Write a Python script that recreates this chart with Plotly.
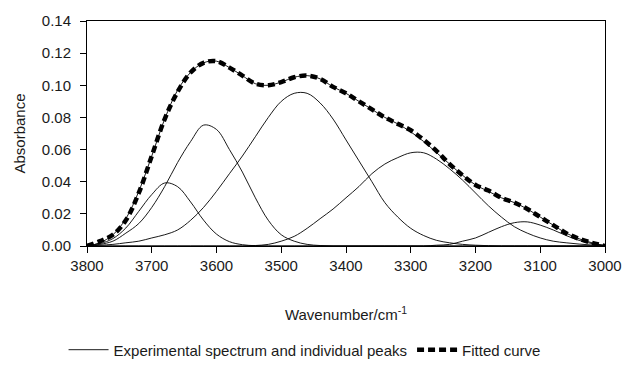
import plotly.graph_objects as go

wavenumber = [3800, 3780, 3760, 3740, 3720, 3700, 3680, 3660, 3640, 3620, 3600,
              3580, 3560, 3540, 3520, 3500, 3480, 3460, 3440, 3420, 3400,
              3380, 3360, 3340, 3320, 3300, 3280, 3260, 3240, 3220, 3200,
              3180, 3160, 3140, 3120, 3100, 3080, 3060, 3040, 3020, 3000]

fitted = [0.000, 0.003, 0.007, 0.016, 0.033, 0.056, 0.079, 0.096, 0.108, 0.114, 0.115,
          0.111, 0.106, 0.101, 0.100, 0.102, 0.105, 0.106, 0.104, 0.099, 0.095,
          0.090, 0.085, 0.080, 0.076, 0.072, 0.066, 0.059, 0.051, 0.044, 0.038,
          0.0345, 0.030, 0.027, 0.023, 0.018, 0.013, 0.008, 0.0045, 0.002, 0.000]

experimental = [0.000, 0.002, 0.007, 0.017, 0.034, 0.056, 0.079, 0.097, 0.108, 0.114, 0.115,
                0.111, 0.106, 0.101, 0.100, 0.102, 0.105, 0.106, 0.104, 0.099, 0.095,
                0.090, 0.085, 0.080, 0.076, 0.071, 0.065, 0.058, 0.051, 0.044, 0.038,
                0.034, 0.030, 0.027, 0.023, 0.018, 0.013, 0.008, 0.0045, 0.002, 0.000]

peak1 = [0.0004, 0.0015, 0.0046, 0.0112, 0.0216, 0.0320, 0.0392, 0.0369, 0.0274, 0.0161, 0.0074,
         0.0027, 0.0008, 0.0002, 0.0, 0.0, 0.0, 0.0, 0.0, 0.0, 0.0,
         0.0, 0.0, 0.0, 0.0, 0.0, 0.0, 0.0, 0.0, 0.0, 0.0,
         0.0, 0.0, 0.0, 0.0, 0.0, 0.0, 0.0, 0.0, 0.0, 0.0]

peak2 = [0.000, 0.001, 0.003, 0.008, 0.014, 0.024, 0.037, 0.052, 0.065, 0.0752, 0.0725,
         0.060, 0.046, 0.030, 0.016, 0.007, 0.003, 0.001, 0.0003, 0.0, 0.0,
         0.0, 0.0, 0.0, 0.0, 0.0, 0.0, 0.0, 0.0, 0.0, 0.0,
         0.0, 0.0, 0.0, 0.0, 0.0, 0.0, 0.0, 0.0, 0.0, 0.0]

peak3 = [0.000, 0.0005, 0.001, 0.002, 0.003, 0.005, 0.007, 0.010, 0.016, 0.024, 0.034,
         0.045, 0.056, 0.068, 0.080, 0.090, 0.095, 0.095, 0.089, 0.079, 0.066,
         0.053, 0.040, 0.027, 0.018, 0.011, 0.0065, 0.0035, 0.002, 0.001, 0.0005,
         0.0002, 0.0, 0.0, 0.0, 0.0, 0.0, 0.0, 0.0, 0.0, 0.0]

peak4 = [0.0, 0.0, 0.0, 0.0, 0.0, 0.0, 0.0, 0.0, 0.0, 0.0, 0.0,
         0.0, 0.0, 0.0003, 0.001, 0.003, 0.006, 0.011, 0.017, 0.023, 0.030,
         0.037, 0.045, 0.051, 0.055, 0.058, 0.058, 0.054, 0.048, 0.041, 0.033,
         0.025, 0.018, 0.012, 0.008, 0.005, 0.003, 0.002, 0.0012, 0.0006, 0.0002]

peak5 = [0.0, 0.0, 0.0, 0.0, 0.0, 0.0, 0.0, 0.0, 0.0, 0.0, 0.0,
         0.0, 0.0, 0.0, 0.0, 0.0, 0.0, 0.0, 0.0, 0.0, 0.0,
         0.0, 0.0, 0.0, 0.0, 0.0, 0.0, 0.0005, 0.001, 0.003, 0.005,
         0.0085, 0.012, 0.0145, 0.015, 0.013, 0.010, 0.0065, 0.0035, 0.0015, 0.0005]

x_ticks = [3800, 3700, 3600, 3500, 3400, 3300, 3200, 3100, 3000]
y_ticks = [0.00, 0.02, 0.04, 0.06, 0.08, 0.10, 0.12, 0.14]

FONT = "Liberation Sans, Arial, sans-serif"
TXT = "#1a1a1a"

fig = go.Figure()

for pk in [peak1, peak2, peak3, peak4, peak5]:
    fig.add_trace(go.Scatter(x=wavenumber, y=pk, mode="lines",
                             line=dict(color="black", width=0.9, shape="spline"),
                             showlegend=False, hoverinfo="skip"))

fig.add_trace(go.Scatter(x=wavenumber, y=experimental, mode="lines",
                         name="Experimental spectrum and individual peaks",
                         line=dict(color="black", width=0.9, shape="spline")))

fig.add_trace(go.Scatter(x=wavenumber, y=fitted, mode="lines",
                         name="Fitted curve",
                         line=dict(color="black", width=4.5, dash="7px,4px", shape="spline")))

fig.update_layout(
    width=626, height=366,
    margin=dict(l=87, r=21, t=21, b=120, autoexpand=False),
    paper_bgcolor="white", plot_bgcolor="white",
    font=dict(family=FONT, size=15, color=TXT),
    showlegend=True,
    legend=dict(orientation="h", x=0.42, xanchor="center", y=-0.462, yanchor="middle",
                font=dict(family=FONT, size=15, color=TXT),
                itemwidth=40, tracegroupgap=0, bgcolor="rgba(0,0,0,0)"),
    xaxis=dict(range=[3800, 3000], tickvals=x_ticks, ticks="outside", ticklen=6,
               tickcolor="black", showline=True, linecolor="black", linewidth=1,
               mirror=True, showgrid=False, zeroline=False,
               tickfont=dict(family=FONT, size=15, color=TXT),
               title=dict(text="Wavenumber/cm<sup>-1</sup>", standoff=36,
                          font=dict(family=FONT, size=15, color=TXT))),
    yaxis=dict(range=[0, 0.14], tickvals=y_ticks, tickformat=".2f", ticks="outside",
               ticklen=6, tickcolor="black", showline=True, linecolor="black",
               linewidth=1, mirror=True, showgrid=False, zeroline=False,
               ticklabelstandoff=6,
               tickfont=dict(family=FONT, size=15, color=TXT),
               title=dict(text="Absorbance", standoff=12,
                          font=dict(family=FONT, size=15, color=TXT))),
)

fig.write_html("out.html")
